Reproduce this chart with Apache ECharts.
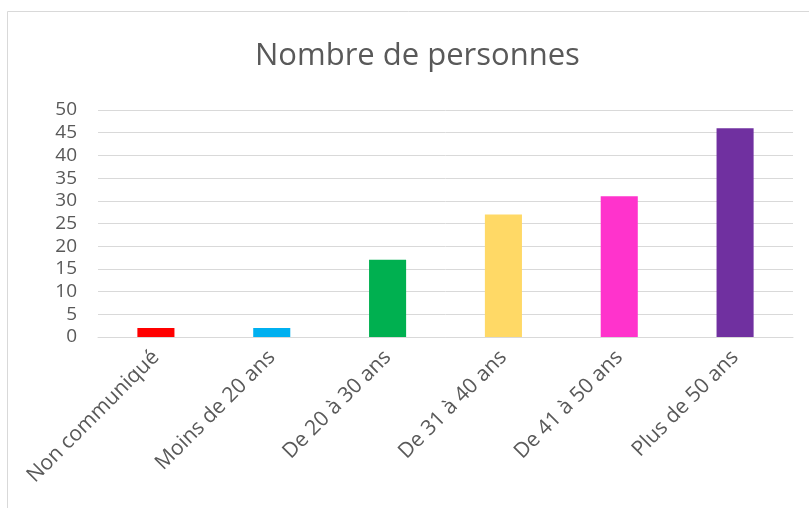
<!DOCTYPE html>
<html>
<head>
<meta charset="utf-8">
<script src="https://cdn.jsdelivr.net/npm/echarts@6/dist/echarts.min.js"></script>
<style>
  html, body { margin: 0; padding: 0; background: #fff; }
  #chart { width: 809px; height: 508px; }
</style>
</head>
<body>
<div id="chart"></div>
<script>
const categories = ['Non communiqué', 'Moins de 20 ans', 'De 20 à 30 ans', 'De 31 à 40 ans', 'De 41 à 50 ans', 'Plus de 50 ans'];
const values = [2, 2, 17, 27, 31, 46];
const barColors = ['#ff0000', '#00b0f0', '#00b050', '#ffd966', '#ff33cc', '#7030a0'];

const chart = echarts.init(document.getElementById('chart'));
const font = 'Open Sans';

chart.setOption({
  backgroundColor: '#fff',
  animation: false,
  graphic: [{
    type: 'rect',
    shape: { x: 7.5, y: 11.5, width: 820, height: 520 },
    style: { fill: 'none', stroke: '#d9d9d9', lineWidth: 1 },
    silent: true
  }],
  title: {
    text: 'Nombre de personnes',
    left: 250,
    top: 36,
    textStyle: { fontFamily: font, fontSize: 31, fontWeight: 'normal', color: '#595959' }
  },
  grid: { left: 98, right: 16, top: 110, bottom: 171, containLabel: false },
  xAxis: {
    type: 'category',
    data: categories,
    axisLine: { lineStyle: { color: '#d9d9d9', width: 1 } },
    axisTick: { show: false },
    axisLabel: {
      rotate: 45,
      interval: 0,
      margin: 17,
      fontFamily: font,
      fontSize: 21,
      color: '#595959'
    }
  },
  yAxis: {
    type: 'value',
    min: 0,
    max: 50,
    interval: 5,
    axisLine: { show: false },
    axisTick: { show: false },
    splitLine: { lineStyle: { color: '#d9d9d9', width: 1 } },
    axisLabel: { fontFamily: font, fontSize: 19, color: '#595959', margin: 21 }
  },
  series: [{
    type: 'bar',
    data: values.map((v, i) => ({ value: v, itemStyle: { color: barColors[i] } })),
    barWidth: '32%'
  }]
});
</script>
</body>
</html>
